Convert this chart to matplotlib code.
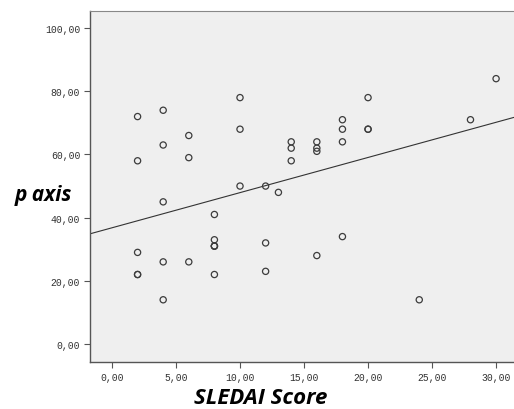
import numpy as np
import matplotlib.pyplot as plt

# SLEDAI score vs p axis
sledai = [2, 2, 2, 2, 2,
          4, 4, 4, 4, 4,
          6, 6, 6,
          8, 8, 8, 8, 8, 8,
          10, 10, 10,
          12, 12, 12, 13,
          14, 14, 14,
          16, 16, 16, 16,
          18, 18, 18, 18,
          20, 20, 20,
          24, 28, 30]
p_axis = [72, 58, 29, 22, 22,
          74, 63, 45, 26, 14,
          66, 59, 26,
          41, 33, 31, 31, 22, 31,
          78, 68, 50,
          50, 32, 23, 48,
          64, 62, 58,
          64, 62, 61, 28,
          71, 68, 64, 34,
          78, 68, 68,
          14, 71, 84]
x_ticks = [0, 5, 10, 15, 20, 25, 30]
y_ticks = [0, 20, 40, 60, 80, 100]

fig = plt.figure(figsize=(5.14, 4.10), dpi=100)
ax = fig.add_axes([0.175, 0.1146, 0.83, 0.856])
ax.set_facecolor('#efefef')

ax.scatter(sledai, p_axis, s=20, facecolors='none', edgecolors='#3c3c3c', linewidths=0.9, zorder=3)

# regression line
slope, intercept = np.polyfit(sledai, p_axis, 1)
xs = np.array([-5, 40])
ax.plot(xs, intercept + slope * xs, color='#333333', lw=0.8, zorder=2)

ax.set_xlim(-1.72, 31.6)
ax.set_ylim(-5.7, 105.4)
ax.set_xticks(x_ticks)
ax.set_yticks(y_ticks)
ax.set_xticklabels([f'{v:.2f}'.replace('.', ',') for v in x_ticks])
ax.set_yticklabels([f'{v:.2f}'.replace('.', ',') for v in y_ticks])
ax.tick_params(direction='out', length=4, width=0.8, color='#555555',
               labelsize=7, labelcolor='#333333', pad=3)
for lbl in ax.get_xticklabels() + ax.get_yticklabels():
    lbl.set_family('Liberation Mono')

for side in ['left', 'bottom']:
    ax.spines[side].set_color('#555555')
    ax.spines[side].set_linewidth(1.0)
ax.spines['top'].set_color('#888888')
ax.spines['right'].set_visible(False)

fig.text(0.085, 1 - 196 / 410, 'p axis', fontsize=15, fontweight='bold', fontstyle='italic',
         family='Open Sans', ha='center', va='center')
fig.text(261 / 514, 1 - 399 / 410, 'SLEDAI Score', fontsize=16, fontweight='bold',
         fontstyle='italic', family='Open Sans', ha='center', va='center')

fig.savefig('out.png', dpi=100)
